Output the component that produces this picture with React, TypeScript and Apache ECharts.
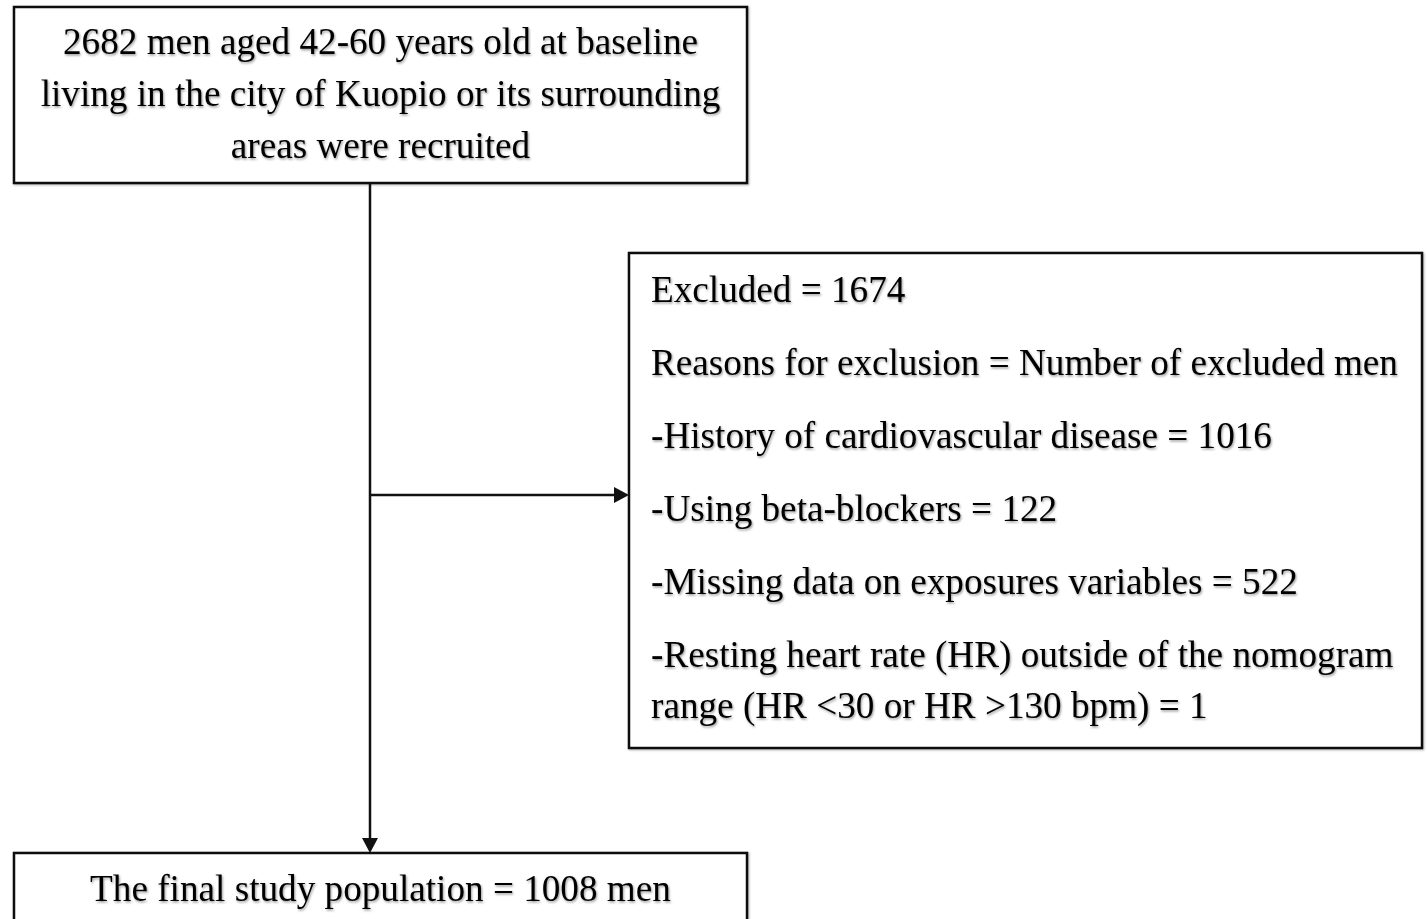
import React, { useEffect, useRef } from "react";
import * as echarts from "echarts";

const topBoxLines = [
  "2682 men aged 42-60 years old at baseline",
  "living in the city of Kuopio or its surrounding",
  "areas were recruited",
];
const excludedLines = [
  "Excluded = 1674",
  "Reasons for exclusion = Number of excluded men",
  "-History of cardiovascular disease = 1016",
  "-Using beta-blockers = 122",
  "-Missing data on exposures variables = 522",
  "-Resting heart rate (HR) outside of the nomogram",
  "range (HR <30 or HR >130 bpm) = 1",
];
const excludedLineY = [289, 362, 435, 508, 581, 654, 705];
const topLineY = [41, 93, 145];
const finalLines = ["The final study population = 1008 men"];

const FONT = "'Liberation Serif', 'Times New Roman', serif";
const FS = 37.2;
const STROKE = "#111";

function txt(text: string, x: number, y: number, align: string) {
  return {
    type: "text",
    silent: true,
    style: {
      text,
      x,
      y,
      fontFamily: FONT,
      fontSize: FS,
      fill: "#000",
      textAlign: align,
      align,
      textVerticalAlign: "middle",
      verticalAlign: "middle",
      textShadowColor: "rgba(0,0,0,0.4)",
      textShadowBlur: 2,
      textShadowOffsetX: 1,
      textShadowOffsetY: 1.5,
    },
  };
}

function box(x: number, y: number, w: number, h: number) {
  return {
    type: "rect",
    silent: true,
    shape: { x, y, width: w, height: h },
    style: {
      fill: "#fff",
      stroke: STROKE,
      lineWidth: 2.5,
      shadowColor: "rgba(0,0,0,0.3)",
      shadowBlur: 2,
      shadowOffsetX: 1,
      shadowOffsetY: 1,
    },
  };
}

export default function App() {
  const ref = useRef<HTMLDivElement>(null);
  useEffect(() => {
    if (!ref.current) return;
    const chart = echarts.init(ref.current, undefined, { renderer: "svg" });
    const elements: any[] = [];
    // boxes
    elements.push(box(14, 7, 733, 176));
    elements.push(box(629, 253, 793, 495));
    elements.push(box(14, 853, 733, 100));
    // vertical connector
    elements.push({
      type: "line",
      silent: true,
      shape: { x1: 370, y1: 183, x2: 370, y2: 840 },
      style: { stroke: STROKE, lineWidth: 2.5 },
    });
    elements.push({
      type: "polygon",
      silent: true,
      shape: { points: [[362, 838], [378, 838], [370, 853]] },
      style: { fill: STROKE },
    });
    // horizontal connector
    elements.push({
      type: "line",
      silent: true,
      shape: { x1: 370, y1: 495, x2: 616, y2: 495 },
      style: { stroke: STROKE, lineWidth: 2.5 },
    });
    elements.push({
      type: "polygon",
      silent: true,
      shape: { points: [[614, 487], [614, 503], [629, 495]] },
      style: { fill: STROKE },
    });
    topBoxLines.forEach((t, i) => elements.push(txt(t, 380.5, topLineY[i], "center")));
    excludedLines.forEach((t, i) => elements.push(txt(t, 651, excludedLineY[i], "left")));
    finalLines.forEach((t) => elements.push(txt(t, 380.5, 888, "center")));

    chart.setOption({
      animation: false,
      backgroundColor: "#fff",
      graphic: { elements },
    });
    return () => chart.dispose();
  }, []);
  return (
    <div
      ref={ref}
      style={{ position: "fixed", left: 0, top: 0, width: 1427, height: 919, background: "#fff" }}
    />
  );
}
